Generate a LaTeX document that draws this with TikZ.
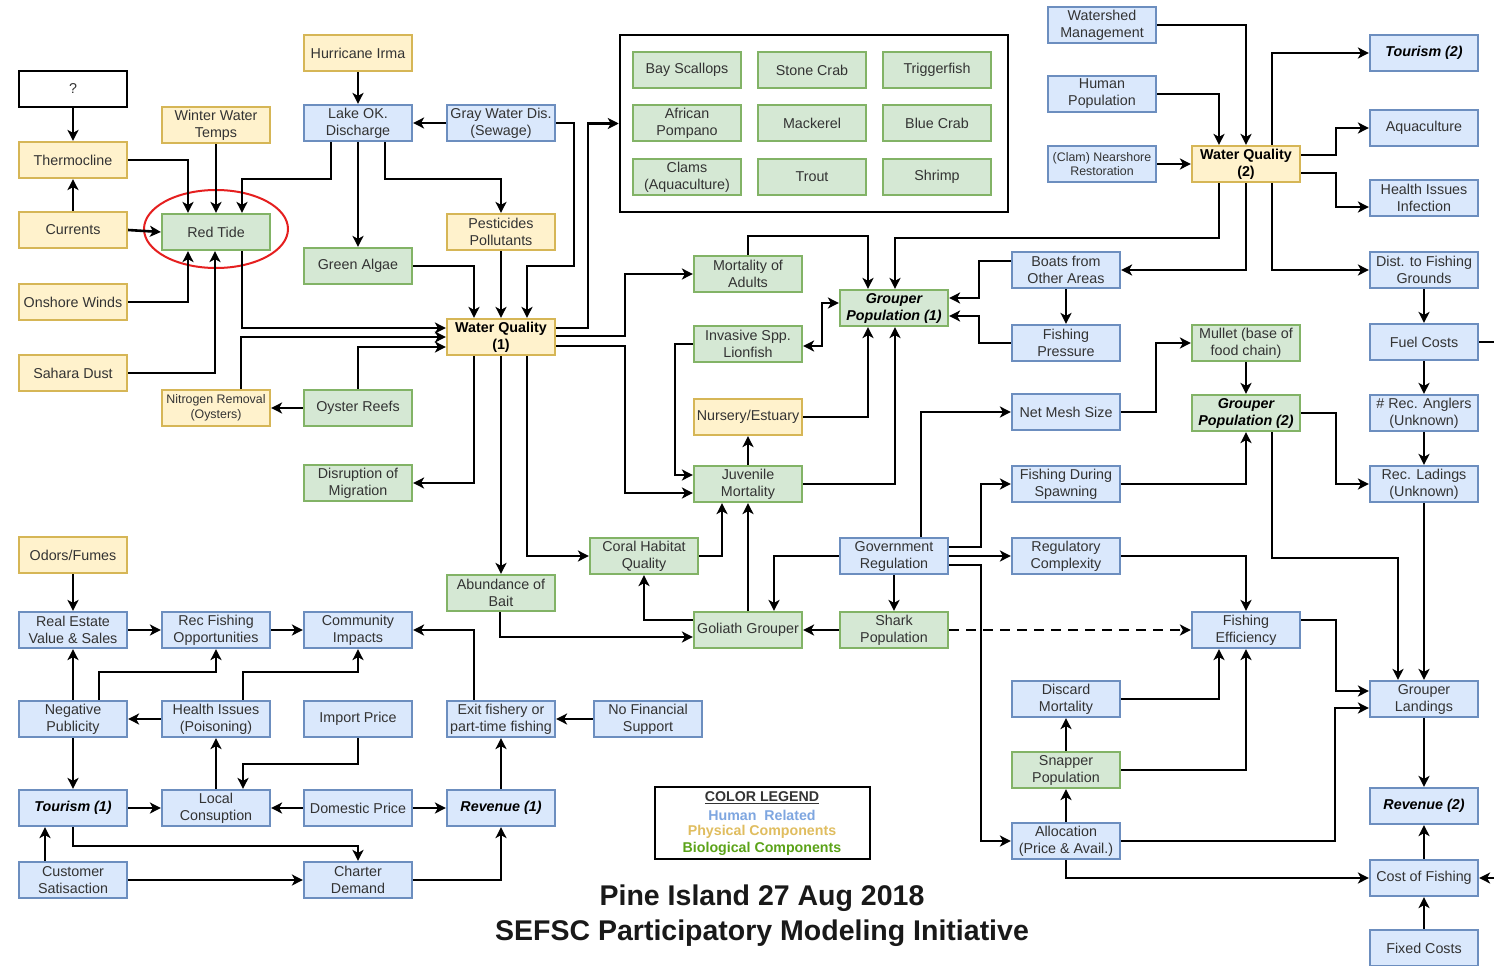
\documentclass[tikz,border=0pt]{standalone}
\usepackage{fontspec}
\setmainfont{Liberation Sans}
\usetikzlibrary{arrows.meta,calc}
\definecolor{hbf}{HTML}{DAE8FC}
\definecolor{hbd}{HTML}{6C8EBF}
\definecolor{pbf}{HTML}{FFF2CC}
\definecolor{pbd}{HTML}{D6B656}
\definecolor{bbf}{HTML}{D5E8D4}
\definecolor{bbd}{HTML}{82B366}
\definecolor{txt}{HTML}{333333}
\definecolor{lgh}{HTML}{7EA6E0}
\definecolor{lgp}{HTML}{E0BD5F}
\definecolor{lgb}{HTML}{5BA318}
\definecolor{ringred}{HTML}{E51F1F}
\newcommand{\bxfont}{\fontsize{14.3}{17}\selectfont}
\newcommand{\smfont}{\fontsize{12.4}{14.5}\selectfont}
\newcommand{\lgfont}{\fontsize{14.2}{16}\selectfont\bfseries}
\newcommand{\ttlfont}{\fontsize{28.5}{32}\selectfont\bfseries}
\tikzset{
  box/.style={draw, line width=2.2pt, minimum width=108pt, minimum height=36pt, inner sep=1pt, align=center, font=\bxfont, text=txt},
  hb/.style={box, draw=hbd, fill=hbf},
  pb/.style={box, draw=pbd, fill=pbf},
  bb/.style={box, draw=bbd, fill=bbf},
  bo/.style={font=\bxfont\bfseries, text=black},
  bi/.style={font=\bxfont\bfseries\itshape, text=black},
  sm/.style={font=\smfont},
  arr/.style={-{Stealth[length=11pt,width=11pt,inset=3pt]}, line width=2.6pt},
  arrb/.style={{Stealth[length=11pt,width=11pt,inset=3pt]}-{Stealth[length=11pt,width=11pt,inset=3pt]}, line width=2.6pt},
}
\begin{document}
\begin{tikzpicture}[x=1pt,y=-1pt]
\clip (0,0) rectangle (1494,966);
\fill[white] (0,0) rectangle (1494,966);

% fish box
\node[draw, line width=2.5pt, minimum width=388pt, minimum height=177pt] (fishbox) at (814,123.5) {};
\node[bb] (scallops) at (687,70) {Bay Scallops};
\node[bb] (stone) at (812,70) {Stone Crab};
\node[bb] (trigger) at (937,70) {Triggerfish};
\node[bb] (pompano) at (687,123) {African\\Pompano};
\node[bb] (mackerel) at (812,123) {Mackerel};
\node[bb] (bluecrab) at (937,123) {Blue Crab};
\node[bb] (clams) at (687,177) {Clams\\(Aquaculture)};
\node[bb] (trout) at (812,177) {Trout};
\node[bb] (shrimp) at (937,177) {Shrimp};

% column 1
\node[box, draw=black, line width=2.5pt, fill=white] (q) at (73,89) {?};
\node[pb] (thermo) at (73,160) {Thermocline};
\node[pb] (currents) at (73,230) {Currents};
\node[pb] (onshore) at (73,302) {Onshore Winds};
\node[pb] (sahara) at (73,373) {Sahara Dust};
\node[pb] (odors) at (73,555) {Odors/Fumes};
\node[hb] (realestate) at (73,630) {Real Estate\\Value \& Sales};
\node[hb] (negpub) at (73,719) {Negative\\Publicity};
\node[hb, bi] (tour1) at (73,808) {Tourism (1)};
\node[hb] (cust) at (73,880) {Customer\\Satisaction};

% column 2
\node[pb] (winter) at (216,125) {Winter Water\\Temps};
\node[bb] (redtide) at (216,232) {Red Tide};
\node[pb, sm] (nitro) at (216,408) {Nitrogen Removal\\(Oysters)};
\node[hb] (recfish) at (216,630) {Rec Fishing\\Opportunities};
\node[hb] (health) at (216,719) {Health Issues\\(Poisoning)};
\node[hb] (local) at (216,808) {Local\\Consuption};

% column 3
\node[pb] (hurr) at (358,53) {Hurricane Irma};
\node[hb] (lake) at (358,123) {Lake OK.\\Discharge};
\node[bb] (algae) at (358,266) {Green Algae};
\node[bb] (oyster) at (358,408) {Oyster Reefs};
\node[bb] (disrupt) at (358,483) {Disruption of\\Migration};
\node[hb] (comm) at (358,630) {Community\\Impacts};
\node[hb] (import) at (358,719) {Import Price};
\node[hb] (domestic) at (358,808) {Domestic Price};
\node[hb] (charter) at (358,880) {Charter\\Demand};

% column 4
\node[hb] (gray) at (501,123) {Gray Water Dis.\\(Sewage)};
\node[pb] (pest) at (501,232) {Pesticides\\Pollutants};
\node[pb, bo] (wq1) at (501,337) {Water Quality\\(1)};
\node[bb] (bait) at (501,593) {Abundance of\\Bait};
\node[hb] (exit) at (501,719) {Exit fishery or\\part-time fishing};
\node[hb, bi] (rev1) at (501,808) {Revenue (1)};
\node[hb] (nofin) at (648,719) {No Financial\\Support};

% column 5
\node[bb] (mortad) at (748,274) {Mortality of\\Adults};
\node[bb] (invasive) at (748,344) {Invasive Spp.\\Lionfish};
\node[pb] (nursery) at (748,417) {Nursery/Estuary};
\node[bb] (juv) at (748,484) {Juvenile\\Mortality};
\node[bb] (coral) at (644,556) {Coral Habitat\\Quality};
\node[bb] (goliath) at (748,630) {Goliath Grouper};

% column 6
\node[bb, bi] (gp1) at (894,308) {Grouper\\Population (1)};
\node[hb] (gov) at (894,556) {Government\\Regulation};
\node[bb] (shark) at (894,630) {Shark\\Population};

% column 7
\node[hb] (watershed) at (1102,25) {Watershed\\Management};
\node[hb] (humanpop) at (1102,94) {Human\\Population};
\node[hb, sm] (clam) at (1102,164) {(Clam) Nearshore\\Restoration};
\node[hb] (boats) at (1066,270) {Boats from\\Other Areas};
\node[hb] (fpress) at (1066,343) {Fishing\\Pressure};
\node[hb] (mesh) at (1066,412) {Net Mesh Size};
\node[hb] (spawn) at (1066,484) {Fishing During\\Spawning};
\node[hb] (regcomp) at (1066,556) {Regulatory\\Complexity};
\node[hb] (discard) at (1066,699) {Discard\\Mortality};
\node[bb] (snapper) at (1066,770) {Snapper\\Population};
\node[hb] (alloc) at (1066,841) {Allocation\\(Price \& Avail.)};

% column 8
\node[pb, bo] (wq2) at (1246,164) {Water Quality\\(2)};
\node[bb] (mullet) at (1246,343) {Mullet (base of\\food chain)};
\node[bb, bi] (gp2) at (1246,413) {Grouper\\Population (2)};
\node[hb] (feff) at (1246,630) {Fishing\\Efficiency};

% column 9
\node[hb, bi] (tour2) at (1424,53) {Tourism (2)};
\node[hb] (aqua) at (1424,128) {Aquaculture};
\node[hb] (hinf) at (1424,198) {Health Issues\\Infection};
\node[hb] (dist) at (1424,270) {Dist. to Fishing\\Grounds};
\node[hb] (fuel) at (1424,342) {Fuel Costs};
\node[hb] (anglers) at (1424,413) {\# Rec. Anglers\\(Unknown)};
\node[hb] (ladings) at (1424,484) {Rec. Ladings\\(Unknown)};
\node[hb] (glandings) at (1424,699) {Grouper\\Landings};
\node[hb, bi] (rev2) at (1424,806) {Revenue (2)};
\node[hb] (cost) at (1424,878) {Cost of Fishing};
\node[hb] (fixed) at (1424,948) {Fixed Costs};

% red ring
\draw[ringred, line width=2pt] (216,229) ellipse [x radius=72pt, y radius=39pt];

% legend
\node[draw, line width=2.5pt, minimum width=215pt, minimum height=72pt] (legend) at (762.5,823) {};
\node[font=\lgfont, text=txt] (lg0) at (762,798) {\underline{COLOR LEGEND}};
\node[font=\lgfont, text=lgh] (lg1) at (762,815) {Human\ \ Related};
\node[font=\lgfont, text=lgp] (lg2) at (762,832) {Physical Components};
\node[font=\lgfont, text=lgb] (lg3) at (762,849) {Biological Components};

% title
\node[font=\ttlfont, text=black!90] (t1) at (762,898) {Pine Island 27 Aug 2018};
\node[font=\ttlfont, text=black!90] (t2) at (762,933) {SEFSC Participatory Modeling Initiative};

% ---------- connectors ----------
\draw[arr] (q) -- (thermo);
\draw[arr] (currents) -- (thermo);
\draw[arr] (thermo.east) -| ([xshift=-28pt]redtide.north);
\draw[arr] (winter) -- (redtide);
\draw[arr] ([xshift=-27pt]lake.south) -- ++(0,37) -| ([xshift=26pt]redtide.north);
\draw[arr] (currents.east) -- (redtide.west);
\draw[arr] (onshore.east) -| ([xshift=-28pt]redtide.south);
\draw[arr] (sahara.east) -| ([xshift=-1pt]redtide.south);
\draw[arr] ([xshift=26pt]redtide.south) |- ([yshift=9pt]wq1.west);
\draw[arr] ([xshift=25pt]nitro.north) |- (wq1.west);
\draw[arr] (oyster.north) |- ([yshift=-10pt]wq1.west);
\draw[arr] (oyster) -- (nitro);
\draw[arr] (algae.east) -| ([xshift=-27pt]wq1.north);
\draw[arr] (pest) -- (wq1);
\draw[arr] (gray.east) -- ++(18,0) -- ++(0,143) -| ([xshift=26pt]wq1.north);
\draw[arr] ([xshift=27pt]lake.south) -- ++(0,37) -| (pest.north);
\draw[arr] (lake) -- (algae);
\draw[arr] (hurr) -- (lake);
\draw[arr] (gray) -- (lake);
\draw[arr] ([yshift=9pt]wq1.east) -- ++(32,0) |- (fishbox.west);
\draw[arr] ([yshift=1pt]wq1.east) -- ++(69,0) |- (mortad.west);
\draw[arr] ([yshift=-9pt]wq1.east) -- ++(69,0) |- ([yshift=-9pt]juv.west);
\draw[arr] ([xshift=-27pt]wq1.south) |- (disrupt.east);
\draw[arr] (wq1) -- (bait);
\draw[arr] ([xshift=26pt]wq1.south) |- (coral.west);
\draw[arr] (invasive.west) -- ++(-18,0) |- ([yshift=9pt]juv.west);
\draw[arr] (juv) -- (nursery);
\draw[arr] (nursery.east) -| ([xshift=-26pt]gp1.south);
\draw[arr] (juv.east) -| ([xshift=1pt]gp1.south);
\draw[arr] (coral.east) -| ([xshift=-26pt]juv.south);
\draw[arr] (goliath) -- (juv);
\draw[arr] ([yshift=10pt]goliath.west) -| (coral.south);
\draw[arr] ([xshift=-1pt]bait.south) |- ([yshift=-7pt]goliath.west);
\draw[arr] (gov.west) -| ([xshift=26pt]goliath.north);
\draw[arr] (shark) -- (goliath);
\draw[arr] (gov) -- (shark);
\draw[arr, dashed, dash pattern=on 10pt off 7pt] (shark) -- (feff);
\draw[arr] ([xshift=27pt]gov.north) |- (mesh.west);
\draw[arr] ([yshift=9pt]gov.east) -- ++(32,0) |- (spawn.west);
\draw[arr] (gov) -- (regcomp);
\draw[arr] ([yshift=-9pt]gov.east) -- ++(32,0) |- (alloc.west);
\draw[arr] (mortad.north) -- ++(0,-19) -| ([xshift=-26pt]gp1.north);
\draw[arr] ([xshift=-27pt]wq2.south) -- ++(0,55) -| ([xshift=1pt]gp1.north);
\draw[arrb] ([yshift=-2pt]invasive.east) -- ++(19,0) |- ([yshift=5pt]gp1.west);
\draw[arr] ([yshift=9pt]boats.west) -- ++(-32,0) |- ([yshift=10pt]gp1.east);
\draw[arr] (fpress.west) -- ++(-32,0) |- ([yshift=-8pt]gp1.east);
\draw[arr] (boats) -- (fpress);
\draw[arr] (wq2.south) |- (boats.east);
\draw[arr] ([xshift=26pt]wq2.north) |- (tour2.west);
\draw[arr] ([xshift=26pt]wq2.south) |- (dist.west);
\draw[arr] ([yshift=9pt]wq2.east) -- ++(35,0) |- (aqua.west);
\draw[arr] ([yshift=-9pt]wq2.east) -- ++(35,0) |- ([yshift=-9pt]hinf.west);
\draw[arr] (watershed.east) -| (wq2.north);
\draw[arr] (humanpop.east) -| ([xshift=-27pt]wq2.north);
\draw[arr] (clam) -- (wq2);
\draw[arr] (dist) -- (fuel);
\draw[arr] (fuel) -- (anglers);
\draw[arr] (anglers) -- (ladings);
\draw[arr] (fuel.east) -- ++(30,0) |- (cost.east);
\draw[arr] (ladings) -- (glandings);
\draw[arr] ([xshift=26pt]gp2.south) -- ++(0,126) -| ([xshift=-26pt]glandings.north);
\draw[arr] (gp2.east) -- ++(35,0) |- (ladings.west);
\draw[arr] (mullet) -- (gp2);
\draw[arr] (mesh.east) -- ++(35,0) |- (mullet.west);
\draw[arr] (spawn.east) -| (gp2.south);
\draw[arr] (regcomp.east) -| (feff.north);
\draw[arr] ([yshift=10pt]feff.east) -- ++(35,0) |- ([yshift=8pt]glandings.west);
\draw[arr] (alloc.east) -- ++(214,0) |- ([yshift=-9pt]glandings.west);
\draw[arr] (discard.east) -| ([xshift=-27pt]feff.south);
\draw[arr] (snapper.east) -| (feff.south);
\draw[arr] (snapper) -- (discard);
\draw[arr] (alloc) -- (snapper);
\draw[arr] (alloc.south) |- (cost.west);
\draw[arr] (glandings) -- (rev2);
\draw[arr] (cost) -- (rev2);
\draw[arr] (fixed) -- (cost);

\draw[arr] (odors) -- (realestate);
\draw[arr] (realestate) -- (recfish);
\draw[arr] (recfish) -- (comm);
\draw[arr] ([xshift=-27pt]exit.north) |- (comm.east);
\draw[arr] (negpub) -- (realestate);
\draw[arr] ([xshift=26pt]negpub.north) -- ++(0,-28) -| (recfish.south);
\draw[arr] ([xshift=27pt]health.north) -- ++(0,-28) -| (comm.south);
\draw[arr] (health) -- (negpub);
\draw[arr] (negpub) -- (tour1);
\draw[arr] (tour1) -- (local);
\draw[arr] (local) -- (health);
\draw[arr] (import.south) -- ++(0,26) -| ([xshift=27pt]local.north);
\draw[arr] (domestic) -- (local);
\draw[arr] (domestic) -- (rev1);
\draw[arr] (rev1) -- (exit);
\draw[arr] (nofin) -- (exit);
\draw[arr] (tour1.south) -- ++(0,19) -| (charter.north);
\draw[arr] ([xshift=-28pt]cust.north) -- ([xshift=-28pt]tour1.south);
\draw[arr] (cust) -- (charter);
\draw[arr] (charter.east) -| (rev1.south);
\end{tikzpicture}
\end{document}
